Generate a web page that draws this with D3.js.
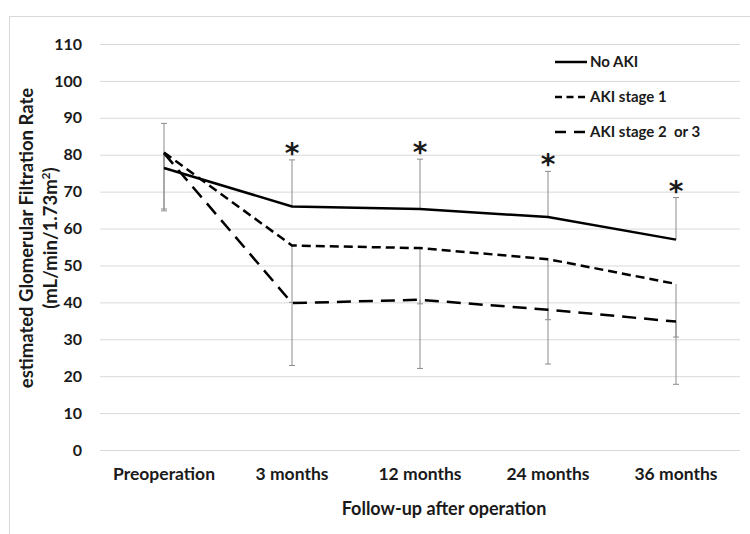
<!DOCTYPE html>
<html>
<head>
<meta charset="utf-8">
<script src="https://cdn.jsdelivr.net/npm/d3@7"></script>
<style>
  body { margin: 0; background: #fff; }
  svg text { font-family: Lato, "Open Sans", sans-serif; font-weight: bold; fill: #1a1a1a; white-space: pre; }
</style>
</head>
<body>
<div class="chart"></div>
<script>
var svgWidth = 750;
var svgHeight = 534;

// chart data
var categories = ["Preoperation", "3 months", "12 months", "24 months", "36 months"];
var noAki = [76.4, 66.0, 65.3, 63.1, 57.0];
var noAkiSD = [12.1, 12.6, 13.5, 12.4, 11.4];      // drawn upward
var aki1 = [80.6, 55.4, 54.7, 51.7, 45.0];
var aki1SD = [15.3, 15.4, 15.1, 16.4, 14.4];       // drawn downward
var aki23 = [80.4, 39.8, 40.7, 38.0, 34.8];
var aki23SD = [15.6, 16.9, 18.6, 14.7, 17.0];      // drawn downward
var significant = [false, true, true, true, true];
var yTicks = [0, 10, 20, 30, 40, 50, 60, 70, 80, 90, 100, 110];

var margin = { top: 44, right: 10, bottom: 84, left: 100 };
var width = 640;
var height = 406;

var svg = d3.select(".chart")
  .append("svg")
  .attr("width", svgWidth)
  .attr("height", svgHeight);

// light frame round the chart
svg.append("rect")
  .attr("x", 9.5)
  .attr("y", 16.5)
  .attr("width", 800)
  .attr("height", 600)
  .attr("fill", "none")
  .attr("stroke", "#d9d9d9");

var chartGroup = svg.append("g")
  .attr("transform", `translate(${margin.left}, ${margin.top})`);

var xScale = d3.scaleBand()
  .domain(categories)
  .range([0, width]);

var yScale = d3.scaleLinear()
  .domain([0, 110])
  .range([height, 0]);

var xPos = d => xScale(d) + xScale.bandwidth() / 2;

// y axis with gridlines
var yAxis = chartGroup.append("g")
  .call(d3.axisLeft(yScale).tickValues(yTicks).tickSizeInner(-width).tickSizeOuter(0).tickPadding(18));
yAxis.select(".domain").remove();
yAxis.selectAll(".tick line").attr("stroke", "#d9d9d9");
yAxis.selectAll(".tick text")
  .style("font-size", "16px")
  .style("font-family", "Lato, sans-serif")
  .attr("fill", "#1a1a1a");

// x axis labels
var xAxis = chartGroup.append("g")
  .attr("transform", `translate(0, ${height})`)
  .call(d3.axisBottom(xScale).tickSize(0).tickPadding(18));
xAxis.select(".domain").remove();
xAxis.selectAll(".tick text")
  .style("font-size", "17.5px")
  .style("font-family", "Lato, sans-serif")
  .attr("fill", "#1a1a1a");

// error bars
function errorBars(means, sds, dir) {
  var g = chartGroup.append("g");
  categories.forEach(function(c, i) {
    var x = xPos(c);
    var y0 = yScale(means[i]);
    var y1 = yScale(means[i] + dir * sds[i]);
    g.append("line")
      .attr("x1", x).attr("x2", x)
      .attr("y1", y0).attr("y2", y1)
      .attr("stroke", "#8c8c8c").attr("stroke-width", 1);
    g.append("line")
      .attr("x1", x - 3).attr("x2", x + 3)
      .attr("y1", y1).attr("y2", y1)
      .attr("stroke", "#8c8c8c").attr("stroke-width", 1);
  });
}
errorBars(noAki, noAkiSD, 1);
errorBars(aki1, aki1SD, -1);
errorBars(aki23, aki23SD, -1);

var line = d3.line()
  .x((d, i) => xPos(categories[i]))
  .y(d => yScale(d));

var series = [
  { name: "No AKI", values: noAki, dash: null },
  { name: "AKI stage 1", values: aki1, dash: "9,5" },
  { name: "AKI stage 2  or 3", values: aki23, dash: "14,8" }
];

series.forEach(function(s) {
  chartGroup.append("path")
    .datum(s.values)
    .attr("d", line)
    .attr("fill", "none")
    .attr("stroke", "#000")
    .attr("stroke-width", 2.5)
    .attr("stroke-dasharray", s.dash);
});

// significance markers
chartGroup.selectAll(".star")
  .data(categories.filter((c, i) => significant[i]))
  .enter()
  .append("text")
  .attr("class", "star")
  .attr("x", d => xPos(d))
  .attr("y", d => {
    var i = categories.indexOf(d);
    return yScale(noAki[i] + noAkiSD[i]) + 3;
  })
  .attr("text-anchor", "middle")
  .style("font-family", "'DejaVu Sans', sans-serif")
  .style("font-size", "28px")
  .text("*");

// legend
var legend = chartGroup.append("g")
  .attr("transform", "translate(455, 18)");
var legendDash = [null, "7,4.5", "11,8"];
series.forEach(function(s, i) {
  var row = legend.append("g").attr("transform", `translate(0, ${i * 35})`);
  row.append("line")
    .attr("x1", 0).attr("x2", 32)
    .attr("stroke", "#000")
    .attr("stroke-width", 2.5)
    .attr("stroke-dasharray", legendDash[i]);
  row.append("text")
    .attr("x", 35)
    .attr("dy", "0.35em")
    .style("font-size", "15px")
    .text(s.name);
});

// axis titles
svg.append("text")
  .attr("x", 444)
  .attr("y", 515)
  .attr("text-anchor", "middle")
  .style("font-size", "18px")
  .text("Follow-up after operation");

var yTitle = svg.append("text")
  .attr("transform", "translate(0, 238) rotate(-90)")
  .attr("text-anchor", "middle")
  .style("font-size", "18.5px");
yTitle.append("tspan")
  .attr("x", 0)
  .attr("y", 33)
  .text("estimated Glomerular Filtration Rate");
yTitle.append("tspan")
  .attr("x", 0)
  .attr("y", 57)
  .text("(mL/min/1.73m");
yTitle.append("tspan")
  .attr("dy", -7)
  .style("font-size", "12px")
  .text("2");
yTitle.append("tspan")
  .attr("dy", 7)
  .text(")");
</script>
</body>
</html>
